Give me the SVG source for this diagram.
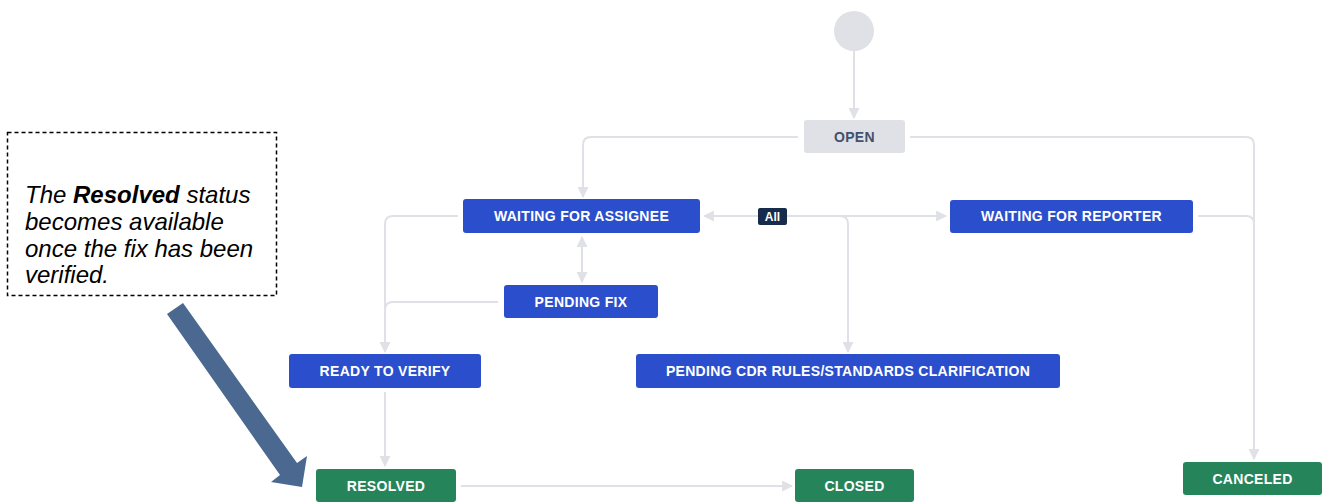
<svg xmlns="http://www.w3.org/2000/svg" width="1324" height="503" viewBox="0 0 1324 503">
<style>
.edge{fill:none;stroke:#dfe1e6;stroke-width:2}
.blue{fill:#2b4fcc}
.green{fill:#26845a}
.lbl{font-family:"Liberation Sans",Arial,sans-serif;font-weight:bold;font-size:14px;letter-spacing:0.3px;fill:#ffffff;text-anchor:middle}
.note{font-family:"Liberation Sans",Arial,sans-serif;font-style:italic;font-size:24px;fill:#000000}
</style>
<defs>
<marker id="ah" viewBox="0 0 10 10" refX="9" refY="5" markerWidth="11" markerHeight="11" markerUnits="userSpaceOnUse" orient="auto-start-reverse">
<path d="M0,0 L10,5 L0,10 Z" fill="#dfe1e6"/>
</marker>
</defs>
<rect width="1324" height="503" fill="#ffffff"/>
<g id="connectors">
<path class="edge" d="M854,51 V118" marker-end="url(#ah)"/>
<path class="edge" d="M798,137 H591 Q583,137 583,145 V197" marker-end="url(#ah)"/>
<path class="edge" d="M910,137 H1246 Q1254,137 1254,145 V459" marker-end="url(#ah)"/>
<path class="edge" d="M1198,216 H1246 Q1254,216 1254,224"/>
<path class="edge" d="M946,216 H704" marker-start="url(#ah)" marker-end="url(#ah)"/>
<path class="edge" d="M840,216 Q848,216 848,224 V352" marker-end="url(#ah)"/>
<path class="edge" d="M458,216 H393 Q385,216 385,224 V352" marker-end="url(#ah)"/>
<path class="edge" d="M498,302 H393 Q385,302 385,310"/>
<path class="edge" d="M582,237 V282" marker-start="url(#ah)" marker-end="url(#ah)"/>
<path class="edge" d="M385,392 V466" marker-end="url(#ah)"/>
<path class="edge" d="M461,486 H792" marker-end="url(#ah)"/>
</g>
<g id="start"><circle cx="854" cy="31" r="20" fill="#dfe1e6"/></g>
<g id="open"><rect x="804" y="120" width="101" height="33" rx="3" fill="#dfe1e6"/><text class="lbl" x="854.5" y="141.5" style="fill:#42526e">OPEN</text></g>
<g id="all"><rect x="758" y="208" width="29" height="17" rx="2" fill="#172b4d"/><text class="lbl" x="772.5" y="221" style="font-size:12px;letter-spacing:0">All</text></g>
<g id="waiting-assignee"><rect class="blue" x="463" y="199" width="237" height="34" rx="3"/><text class="lbl" x="581.5" y="221">WAITING FOR ASSIGNEE</text></g>
<g id="waiting-reporter"><rect class="blue" x="950" y="200" width="243" height="33" rx="3"/><text class="lbl" x="1071.5" y="221">WAITING FOR REPORTER</text></g>
<g id="pending-fix"><rect class="blue" x="504" y="285" width="154" height="33" rx="3"/><text class="lbl" x="581" y="306.5">PENDING FIX</text></g>
<g id="ready-to-verify"><rect class="blue" x="289" y="354" width="192" height="34" rx="3"/><text class="lbl" x="385" y="376">READY TO VERIFY</text></g>
<g id="pending-cdr"><rect class="blue" x="636" y="354" width="424" height="34" rx="3"/><text class="lbl" x="848" y="376">PENDING CDR RULES/STANDARDS CLARIFICATION</text></g>
<g id="resolved"><rect class="green" x="316" y="469" width="140" height="33" rx="3"/><text class="lbl" x="386" y="490.5">RESOLVED</text></g>
<g id="closed"><rect class="green" x="795" y="469" width="119" height="33" rx="3"/><text class="lbl" x="854.5" y="490.5">CLOSED</text></g>
<g id="canceled"><rect class="green" x="1183" y="462" width="139" height="33" rx="3"/><text class="lbl" x="1252.5" y="483.5">CANCELED</text></g>
<g id="note">
<rect x="7.5" y="132.5" width="269" height="163" fill="#ffffff" stroke="#000000" stroke-width="1.5" stroke-dasharray="4,3"/>
<text class="note" x="25" y="203">The <tspan font-weight="bold">Resolved</tspan> status</text>
<text class="note" x="25" y="230">becomes available</text>
<text class="note" x="25" y="257">once the fix has been</text>
<text class="note" x="25" y="283">verified.</text>
</g>
<g id="pointer"><polygon points="167,314 183,303 297,463 307,456 302,487 271,482 280,475" fill="#4a6890"/></g>
</svg>
